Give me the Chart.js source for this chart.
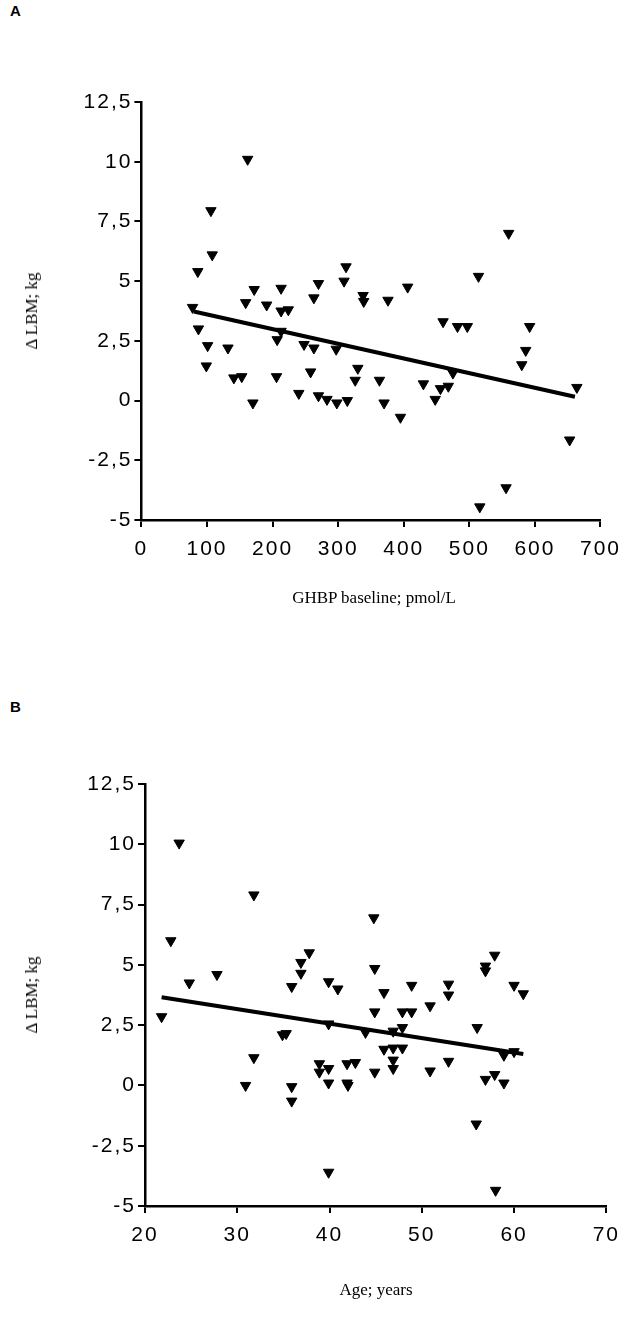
<!DOCTYPE html>
<html>
<head>
<meta charset="utf-8">
<script src="https://cdn.jsdelivr.net/npm/chart.js@4.4.1/dist/chart.umd.min.js"></script>
<style>
  body { margin: 0; background: #fff; width: 628px; height: 1318px; position: relative; overflow: hidden; }
  .panel { position: absolute; font: bold 15px "Liberation Sans", Arial, sans-serif; color: #000; }
  .ytitle, .xtitle { position: absolute; font: 17px "Liberation Serif", "Times New Roman", serif; color: #000; white-space: nowrap; }
  .ytitle { transform: translate(-50%, -50%) rotate(-90deg); }
  .xtitle { transform: translate(-50%, -50%); }
  canvas { position: absolute; left: 0; }
</style>
</head>
<body>
<div class="panel" style="left:10px; top:2px;">A</div>
<div class="panel" style="left:10px; top:698px;">B</div>

<canvas id="chartA" width="628" height="640" style="top:0px"></canvas>
<canvas id="chartB" width="628" height="668" style="top:650px"></canvas>

<div class="ytitle" style="left:32px; top:311px;">&Delta; LBM; kg</div>
<div class="xtitle" style="left:374px; top:598px;">GHBP baseline; pmol/L</div>
<div class="ytitle" style="left:32px; top:995px;">&Delta; LBM; kg</div>
<div class="xtitle" style="left:376px; top:1290px;">Age; years</div>

<script>
// panel A: GHBP baseline vs change in lean body mass
const ghbp = [86, 108, 312, 78, 270, 309, 172, 213, 159, 191, 213, 224, 263, 338, 339, 376, 406, 514,
  87, 101, 132, 99, 141, 153, 170, 206, 213, 207, 248, 263, 297, 258, 240, 270, 283, 298, 314,
  330, 326, 363, 370, 395, 430, 448, 456, 468, 475, 460, 482, 497, 592, 586, 580, 664,
  162, 106, 560, 653, 556, 516];
const lbmA = [5.4, 6.1, 5.6, 3.9, 4.9, 5.0, 4.65, 4.7, 4.1, 4.0, 3.75, 3.8, 4.3, 4.4, 4.15, 4.2, 4.75, 5.2,
  3.0, 2.3, 2.2, 1.45, 0.95, 1.0, -0.1, 1.0, 2.9, 2.55, 2.35, 2.2, 2.15, 1.2, 0.3, 0.2, 0.05, -0.1, 0.0,
  1.35, 0.85, 0.85, -0.1, -0.7, 0.7, 0.05, 0.5, 0.6, 1.15, 3.3, 3.1, 3.1, 3.1, 2.1, 1.5, 0.55,
  10.1, 7.95, 7.0, -1.65, -3.65, -4.45];
const fitAx = [80, 661];
const fitAy = [3.73, 0.16];

// panel B: age vs change in lean body mass
const age = [22.8, 21.8, 24.8, 27.8, 31.8, 30.9, 34.9, 35.3, 35.9, 36.9, 36.9, 37.8, 35.9, 35.9,
  39.9, 40.9, 39.9, 38.9, 38.9, 39.9, 39.9, 41.9, 42.8, 41.9, 42.0, 44.8, 44.9, 45.9, 44.9, 43.9,
  44.9, 45.9, 46.9, 47.9, 46.9, 47.9, 46.9, 46.9, 47.9, 48.9, 48.9, 50.9, 50.9, 52.9, 52.9, 52.9,
  56.0, 56.9, 56.9, 57.9, 56.9, 57.9, 58.9, 58.9, 60.0, 60.0, 61.0, 23.7, 31.8, 55.9, 58.0, 39.9];
const lbmB = [6.0, 2.85, 4.25, 4.6, 1.15, 0.0, 2.1, 2.15, 4.1, 5.1, 4.65, 5.5, -0.05, -0.65,
  4.3, 4.0, 2.55, 0.9, 0.55, 0.7, 0.1, 0.9, 0.95, 0.1, 0.0, 6.95, 4.85, 3.85, 3.05, 2.2,
  0.55, 1.5, 1.55, 1.55, 2.25, 2.4, 1.05, 0.7, 3.05, 3.05, 4.15, 3.3, 0.6, 4.2, 3.75, 1.0,
  2.4, 4.95, 4.75, 5.4, 0.25, 0.45, 0.1, 1.25, 1.4, 4.15, 3.8, 10.05, 7.9, -1.6, -4.35, -3.6];
const fitBx = [21.8, 61.0];
const fitBy = [3.66, 1.30];

const yTicks = [-5, -2.5, 0, 2.5, 5, 7.5, 10, 12.5];
const xTicksA = [0, 100, 200, 300, 400, 500, 600, 700];
const xTicksB = [20, 30, 40, 50, 60, 70];

const tickFont = { family: '"Liberation Sans", Arial, sans-serif', size: 21 };

// wider digit spacing like the printed figure
const spacing = {
  id: 'spacing',
  beforeDraw(chart) { chart.ctx.letterSpacing = '2px'; }
};

function makeChart(id, xs, ys, fx, fy, xTicks, box) {
  const pts = xs.map((x, i) => ({ x: x, y: ys[i] }));
  const fit = fx.map((x, i) => ({ x: x, y: fy[i] }));
  new Chart(document.getElementById(id), {
    type: 'scatter',
    data: {
      datasets: [
        {
          data: pts,
          pointStyle: 'triangle',
          rotation: 180,
          pointRadius: 6,
          backgroundColor: '#000',
          borderColor: '#000',
          borderWidth: 1
        },
        {
          data: fit,
          showLine: true,
          pointRadius: 0,
          borderColor: '#000',
          borderWidth: 4
        }
      ]
    },
    options: {
      responsive: false,
      animation: false,
      events: [],
      layout: { padding: { left: 0, top: box.top, right: box.right, bottom: 0 } },
      plugins: { legend: { display: false }, tooltip: { enabled: false } },
      scales: {
        x: {
          type: 'linear',
          min: xTicks[0],
          max: xTicks[xTicks.length - 1],
          afterBuildTicks: s => { s.ticks = xTicks.map(v => ({ value: v })); },
          afterFit: s => { s.height = box.xh; },
          grid: { drawOnChartArea: false, color: '#000', lineWidth: 2, tickLength: 7 },
          border: { color: '#000', width: 2.5 },
          ticks: { color: '#000', font: tickFont, padding: 10, maxRotation: 0, autoSkip: false }
        },
        y: {
          type: 'linear',
          min: -5,
          max: 12.5,
          afterBuildTicks: s => { s.ticks = yTicks.map(v => ({ value: v })); },
          afterFit: s => { s.width = box.yw; },
          grid: { drawOnChartArea: false, color: '#000', lineWidth: 2, tickLength: 7 },
          border: { color: '#000', width: 2.5 },
          ticks: {
            color: '#000', font: tickFont, padding: 2, autoSkip: false,
            callback: v => String(v).replace('.', ',')
          }
        }
      }
    },
    plugins: [spacing]
  });
}

makeChart('chartA', ghbp, lbmA, fitAx, fitAy, xTicksA, { top: 102, right: 22.5, xh: 120, yw: 141.4 });
makeChart('chartB', age, lbmB, fitBx, fitBy, xTicksB, { top: 134, right: 20, xh: 112, yw: 145 });
</script>
</body>
</html>
